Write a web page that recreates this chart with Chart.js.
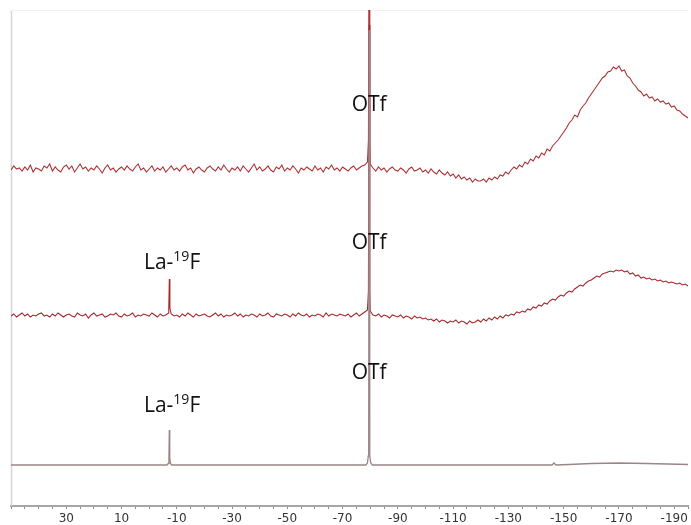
<!DOCTYPE html>
<html>
<head>
<meta charset="utf-8">
<script src="https://cdn.jsdelivr.net/npm/chart.js@4/dist/chart.umd.min.js"></script>
<style>
  html, body { margin: 0; padding: 0; background: #fff; }
  canvas { display: block; }
</style>
</head>
<body>
<canvas id="nmr" width="691" height="525"></canvas>
<script>
// 19F NMR, three stacked spectra (chemical shift in ppm, intensity in plot units)

// ppm grid for the noisy traces: 50 ... -195, 1 ppm step
const GRID_START = 50;

// top spectrum, intensity above its own baseline
const topIntensity = [
  0, 4, 1, 2, -1, 3, 0, 5, -2, 2,
  1, -1, 4, 2, 6, -1, 3, 0, -2, 3,
  5, 1, 4, -2, 2, 6, 1, 3, -1, 2,
  0, 4, 1, -3, 2, 5, 0, 2, -2, 1,
  3, 0, 4, 1, -1, 3, 6, 0, 2, -2,
  1, 4, -1, 2, 0, 3, -2, 1, 4, 0,
  2, -1, 3, 5, 0, 2, -3, 1, 3, 0,
  -2, 2, 4, 1, -1, 3, 0, 5, 1, -2,
  2, 0, 3, -1, 4, 1, -2, 2, 6, 0,
  3, -1, 1, 4, 0, -2, 3, 1, 5, -1,
  2, 0, 4, 1, -3, 2, 0, 3, 1, -1,
  4, 0, 2, -2, 3, 1, 5, 0, 2, -1,
  3, 1, -1, 2, 4, 0, 2, 4, 5, 8,
  6, 2, -1, 3, 0, 2, -2, 1, 3, 0,
  -1, 2, 0, -3, 1, 3, -1, 0, 2, -2,
  0, -3, 1, -2, -4, 0, -3, -5, -2, -6,
  -4, -8, -5, -9, -7, -10, -8, -12, -9, -11,
  -11, -9, -12, -8, -10, -7, -9, -5, -6, -2,
  -4, 0, 3, 1, 5, 3, 8, 6, 11, 9,
  14, 12, 17, 15, 21, 19, 24, 27, 30, 34,
  38, 42, 47, 50, 55, 53, 60, 64, 67, 72,
  76, 80, 84, 88, 92, 94, 98, 99, 103, 101,
  104, 99, 100, 94, 92, 87, 84, 80, 78, 74,
  76, 72, 73, 69, 71, 68, 69, 66, 67, 63,
  64, 60, 59, 56, 54, 52
];
const topPeaks = [[-79.35, 30], [-79.6, 260], [-79.85, 30]];

// middle spectrum
const midIntensity = [
  0, 2, -1, 1, 3, 0, 2, -1, 1, 0,
  2, 3, 0, 1, -1, 2, 0, 3, 1, -1,
  1, 2, 0, -1, 3, 1, 0, 2, -2, 1,
  3, 0, 1, 2, -1, 0, 2, 1, 3, 0,
  -1, 2, 0, 1, 3, -1, 1, 0, 2, 1,
  0, 3, 1, -1, 2, 0, 1, 3, 2, 0,
  1, -1, 2, 0, 3, 1, -1, 2, 0, 1,
  2, 0, -1, 1, 3, 0, 2, -1, 1, 0,
  1, 3, 0, 2, -1, 1, 0, 2, 1, -1,
  2, 0, 1, 3, 0, -1, 2, 1, 0, 2,
  1, -1, 2, 0, 3, 1, 0, 2, -1, 1,
  0, 2, 1, -1, 3, 0, 2, 1, 0, 2,
  1, 0, 2, -1, 1, 3, 0, 2, 4, 6,
  5, 1, 0, 2, -1, 1, 0, -2, 1, 0,
  -1, 1, -2, 0, -1, -3, 0, -2, -1, -3,
  -2, -4, -3, -5, -3, -6, -4, -5, -7, -5,
  -6, -4, -7, -5, -6, -8, -5, -7, -6, -4,
  -6, -3, -5, -2, -4, -1, -3, 0, -2, 1,
  0, 2, 1, 4, 3, 5, 4, 7, 6, 9,
  8, 11, 10, 13, 12, 15, 17, 16, 19, 21,
  20, 23, 25, 24, 27, 29, 31, 30, 33, 35,
  36, 38, 40, 39, 42, 43, 44, 45, 44, 46,
  45, 46, 44, 45, 42, 43, 40, 41, 38, 39,
  37, 38, 36, 37, 35, 36, 34, 35, 33, 34,
  33, 32, 33, 31, 32, 30
];
const midPeaks = [
  [-7.1, 8], [-7.3, 37], [-7.5, 8],
  [-79.35, 25], [-79.6, 291], [-79.85, 25]
];

// bottom spectrum (clean)
const botPoints = [
  [50, 0], [-6.4, 0], [-6.9, 1.5], [-7.15, 7], [-7.3, 35], [-7.45, 7], [-7.7, 1.5], [-8.2, 0],
  [-78.4, 0], [-79.0, 2], [-79.3, 9], [-79.45, 40], [-79.6, 435], [-79.75, 40], [-79.9, 9], [-80.2, 2], [-80.8, 0],
  [-145.8, 0], [-146.5, 2], [-147.2, 0], [-152, 0.5], [-160, 1.5], [-170, 2], [-180, 1.5], [-195, 0.5]
];

// baseline of each spectrum on the shared y scale
const traceOffsets = [336, 190, 41];

// axis
const X_MIN = -195, X_MAX = 50;
const Y_MIN = 0, Y_MAX = 496;
const tickLabels = [30, 10, -10, -30, -50, -70, -90, -110, -130, -150, -170, -190];

// peak labels
const peakLabels = [
  { text: 'OTf', x: -79.6, y: 401 },
  { text: 'OTf', x: -79.6, y: 263 },
  { text: 'OTf', x: -79.6, y: 133 },
  { text: 'La-', sup: '19', tail: 'F', x: -8.3, y: 243 },
  { text: 'La-', sup: '19', tail: 'F', x: -8.3, y: 100 }
];

function buildTrace(values, peaks, offset) {
  const pts = values.map((v, i) => ({ x: GRID_START - i, y: v + offset }));
  peaks.forEach(([x, v]) => pts.push({ x: x, y: v + offset }));
  return pts.sort((a, b) => b.x - a.x);
}

const datasets = [
  {
    data: botPoints.map(([x, v]) => ({ x: x, y: v + traceOffsets[2] })),
    borderColor: '#9c8587', borderWidth: 1.3
  },
  {
    data: buildTrace(midIntensity, midPeaks, traceOffsets[1]),
    borderColor: '#a5282d', borderWidth: 1.1
  },
  {
    data: buildTrace(topIntensity, topPeaks, traceOffsets[0]),
    borderColor: '#ac3237', borderWidth: 1.1
  }
].map(d => Object.assign(d, { pointRadius: 0, tension: 0, fill: false }));

// frame line on the left and a faint top edge
const framePlugin = {
  id: 'frame',
  beforeDatasetsDraw(chart) {
    const { ctx, chartArea: a } = chart;
    ctx.save();
    ctx.strokeStyle = '#d6d6d6';
    ctx.lineWidth = 1.5;
    ctx.beginPath();
    ctx.moveTo(a.left + 0.5, a.top);
    ctx.lineTo(a.left + 0.5, a.bottom);
    ctx.stroke();
    ctx.strokeStyle = '#f0f0f0';
    ctx.lineWidth = 1;
    ctx.beginPath();
    ctx.moveTo(a.left, a.top + 0.5);
    ctx.lineTo(a.right, a.top + 0.5);
    ctx.stroke();
    ctx.restore();
  }
};

const labelPlugin = {
  id: 'peakLabels',
  afterDatasetsDraw(chart) {
    const { ctx, scales } = chart;
    const big = '21px "Open Sans", "Noto Sans", sans-serif';
    const small = '14px "Open Sans", "Noto Sans", sans-serif';
    ctx.save();
    ctx.fillStyle = '#111';
    ctx.textBaseline = 'middle';
    peakLabels.forEach(l => {
      const px = scales.x.getPixelForValue(l.x);
      const py = scales.y.getPixelForValue(l.y);
      if (!l.sup) {
        ctx.font = big;
        ctx.textAlign = 'center';
        ctx.fillText(l.text, px, py);
        return;
      }
      ctx.textAlign = 'left';
      ctx.font = big;
      const w1 = ctx.measureText(l.text).width;
      const w3 = ctx.measureText(l.tail).width;
      ctx.font = small;
      const w2 = ctx.measureText(l.sup).width;
      let cx = px - (w1 + w2 + w3) / 2;
      ctx.font = big;
      ctx.fillText(l.text, cx, py);
      cx += w1;
      ctx.font = small;
      ctx.fillText(l.sup, cx, py - 6);
      cx += w2;
      ctx.font = big;
      ctx.fillText(l.tail, cx, py);
    });
    ctx.restore();
  }
};

new Chart(document.getElementById('nmr'), {
  type: 'line',
  data: { datasets: datasets },
  plugins: [framePlugin, labelPlugin],
  options: {
    responsive: false,
    animation: false,
    layout: { padding: { left: 11, top: 10, right: 0, bottom: 0 } },
    plugins: { legend: { display: false }, tooltip: { enabled: false } },
    scales: {
      x: {
        type: 'linear',
        reverse: true,
        min: X_MIN,
        max: X_MAX,
        afterBuildTicks: scale => {
          const ticks = [];
          for (let v = X_MAX; v >= X_MIN; v -= 5) ticks.push({ value: v });
          scale.ticks = ticks;
        },
        afterFit: scale => { scale.height = 19; },
        border: { display: true, color: '#a6a6a6', width: 2 },
        grid: { drawOnChartArea: false, drawTicks: true, tickLength: 3, color: '#8c8c8c' },
        ticks: {
          autoSkip: false,
          maxRotation: 0,
          padding: 3,
          color: '#333333',
          font: { family: '"DejaVu Sans", Arial, sans-serif', size: 12 },
          callback: v => tickLabels.includes(v) ? String(v) : ''
        }
      },
      y: { display: false, min: Y_MIN, max: Y_MAX }
    }
  }
});
</script>
</body>
</html>
